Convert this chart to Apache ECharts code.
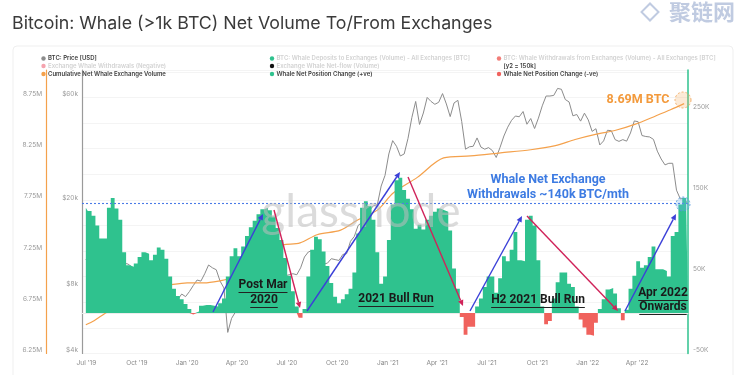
<!DOCTYPE html>
<html>
<head>
<meta charset="utf-8">
<script src="https://cdn.jsdelivr.net/npm/echarts@6/dist/echarts.min.js"></script>
<style>
html, body { margin: 0; padding: 0; background: #fff; }
#chart { width: 750px; height: 375px; }
</style>
</head>
<body>
<div id="chart"></div>
<script>
// weekly samples, first one on Sunday 2019-06-30
const weekStart = Date.UTC(2019, 5, 30);

// BTC price [USD], weekly
const btcPrice = [
  10800, 11400, 10200, 10300, 9500, 11000, 11400, 10200, 10100, 9800,
  10400, 10300, 10000, 8200, 7900, 8300, 8200, 9500, 9300, 9000,
  8500, 7000, 7400, 7500, 7100, 7500, 7300,
  7700, 8200, 8700, 8600, 9300, 10200, 9900, 9700, 8600, 8000,
  5000, 5800, 6200, 6800, 6900, 7100, 7700, 8900, 8700, 9700,
  8900, 9500, 9700, 9400, 9700, 9100, 9200, 9300, 9200, 9900,
  11100, 11700, 11900, 11600, 11700, 10300, 10400, 10900, 10800, 10700,
  11400, 11500, 13100, 13800, 15500, 16000, 18400, 18200, 19100, 19300,
  23500, 26300,
  33000, 38000, 35800, 32300, 33000, 38900, 48500, 57500, 45100, 50900,
  60000, 57500, 55800, 57000, 62500, 56000, 49000, 56600, 58200, 46500,
  34700, 35600, 35800, 39100, 35500, 34700, 35300, 34200, 31800, 35400,
  39900, 43800, 47100, 49300, 48900, 51700, 45200, 48000, 43200, 48200,
  54900, 60900, 60900, 61300, 66000, 65400, 58700, 57200, 49400, 50100,
  46700, 50800,
  47300, 41900, 43100, 36300, 37900, 42400, 42200, 38400, 37700, 38400,
  37800, 41200, 46800, 46400, 40100, 39700, 39500, 38500, 34000, 31300,
  29400, 29900, 29900, 22500, 20500, 20700, 19300
];

// Whale net position change [k BTC], weekly
const netPosition = [
  130, 126, 120, 108, 92, 92, 130, 142, 129, 115,
  75, 59, 57, 61, 69, 75, 73, 65, 72, 81,
  78, 67, 45, 30, 21, 17, 11, 5, -2, 2,
  9, 10, 10, 9, 8, 12, 18, 45, 70, 80,
  70, 82, 95, 106, 114, 122, 128, 130, 127, 119,
  105, 90, 68, 46, 27, 8, -6, 5, 45, 78,
  94, 91, 76, 58, 37, 20, 12, 17, 23, 30,
  50, 98, 130, 138, 132, 115, 75, 36, 45, 90,
  134, 164, 167, 152, 141, 128, 104, 109, 103, 115,
  120, 125, 129, 127, 125, 102, 55, 30, -5, -27,
  -17, -17, 8, 18, 32, 45, 45, 25, 43, 70,
  64, 78, 100, 65, 64, 115, 120, 108, 65, 8,
  -14, -10, 18, 38, 50, 50, 36, 32, 8, -8,
  -18, -27, -28, -12, 5, 17, 29, 31, 24, 6,
  -9, 4, 30, 46, 64, 56, 59, 69, 82, 54,
  54, 52, 45, 95, 100, 134, 142, 144
];

// cumulative net whale exchange volume [M BTC]
const cumDates = [
  '2019-06-30', '2019-07-15', '2019-08-05', '2019-09-01', '2019-10-01', '2019-11-01',
  '2019-12-01', '2020-01-01', '2020-02-01', '2020-03-01', '2020-03-15', '2020-04-01',
  '2020-05-01', '2020-06-01', '2020-06-24', '2020-07-25', '2020-08-25', '2020-10-07',
  '2020-11-07', '2020-12-13', '2021-01-11', '2021-02-24', '2021-04-13', '2021-06-01',
  '2021-07-26', '2021-09-19', '2021-11-03', '2021-12-09', '2022-01-15', '2022-02-21',
  '2022-03-29', '2022-05-05', '2022-06-01', '2022-06-26'
];
const cumVolume = [
  6.53, 6.57, 6.645, 6.73, 6.82, 6.89,
  6.92, 6.94, 6.94, 6.96, 6.98, 7.06,
  7.18, 7.27, 7.31, 7.33, 7.41, 7.455,
  7.554, 7.65, 7.817, 7.97, 8.16, 8.18,
  8.21, 8.24, 8.28, 8.34, 8.39, 8.43,
  8.49, 8.57, 8.63, 8.69
];

const xTicks = [
  '2019-07-01', '2019-10-01', '2020-01-01', '2020-04-01', '2020-07-01', '2020-10-01',
  '2021-01-01', '2021-04-01', '2021-07-01', '2021-10-01', '2022-01-01', '2022-04-01'
];
const priceTicks = [4000, 8000, 20000, 60000];
const netLevel = 135; // dotted [y2] level

const GREEN = '#2fc28e';
const RED = '#f0625d';
const ORANGE = '#f4a14c';
const GRAY = '#8c8c8c';
const DOTTED_BLUE = '#4a7be6';
const MONTHS = ['Jan', 'Feb', 'Mar', 'Apr', 'May', 'Jun', 'Jul', 'Aug', 'Sep', 'Oct', 'Nov', 'Dec'];
const DAY = 86400000;

function utc(s) {
  return Date.parse(s + 'T00:00:00Z');
}

function weekly(values) {
  return values.map((v, i) => [weekStart + i * 7 * DAY, v]);
}

const priceData = weekly(btcPrice);
const netPosData = weekly(netPosition.map(v => Math.max(v, 0)));
const netNegData = weekly(netPosition.map(v => Math.min(v, 0)));
const cumData = cumVolume.map((v, i) => [utc(cumDates[i]), v]);

// text width helper for underlines
const measureCtx = document.createElement('canvas').getContext('2d');
function textWidth(text, font) {
  measureCtx.font = font;
  return measureCtx.measureText(text).width;
}

function label(text, x, y, color, font, underline) {
  const out = [{
    type: 'text', z: 30,
    style: { text: text, x: x, y: y, fill: color, font: font, textAlign: 'center', textVerticalAlign: 'middle' }
  }];
  if (underline) {
    const w = textWidth(text, font);
    out.push({
      type: 'line', z: 30,
      shape: { x1: x - w / 2, y1: y + 7.5, x2: x + w / 2, y2: y + 7.5 },
      style: { stroke: '#222', lineWidth: 1 }
    });
  }
  return out;
}

function arrow(x1, y1, x2, y2, color) {
  const a = Math.atan2(y2 - y1, x2 - x1);
  const L = 6, W = 2.8;
  const bx = x2 - L * Math.cos(a), by = y2 - L * Math.sin(a);
  return [{
    type: 'line', z: 25,
    shape: { x1: x1, y1: y1, x2: bx, y2: by },
    style: { stroke: color, lineWidth: 1.4 }
  }, {
    type: 'polygon', z: 25,
    shape: { points: [[x2, y2], [bx + W * Math.sin(a), by - W * Math.cos(a)], [bx - W * Math.sin(a), by + W * Math.cos(a)]] },
    style: { fill: color }
  }];
}

function legendItem(x, y, dot, text, active) {
  const out = [];
  if (dot) {
    out.push({ type: 'circle', z: 30, shape: { cx: x, cy: y, r: 2.2 }, style: { fill: dot } });
  }
  out.push({
    type: 'text', z: 30,
    style: {
      text: text, x: x + 4.5, y: y, fill: active ? '#3d3d3d' : '#d2d2d2',
      font: '600 6px Inter', textVerticalAlign: 'middle'
    }
  });
  return out;
}

const graphics = [].concat(
  // card frame
  [{ type: 'rect', z: 0, shape: { x: 13, y: 46, width: 720, height: 345, r: 4 }, style: { fill: 'none', stroke: '#efefef', lineWidth: 1 } }],
  // legend
  legendItem(43.5, 58.5, GRAY, 'BTC: Price [USD]', true),
  legendItem(272, 58.5, GREEN, 'BTC: Whale Deposits to Exchanges (Volume) - All Exchanges [BTC]', false),
  legendItem(499, 58.5, '#f27d78', 'BTC: Whale Withdrawals from Exchanges (Volume) - All Exchanges [BTC]', false),
  legendItem(43.5, 66, '#f5a3ae', 'Exchange Whale Withdrawals (Negative)', false),
  legendItem(272, 66, '#111', 'Exchange Whale Net-flow (Volume)', false),
  legendItem(499, 66, null, '[y2 = 150k]', true),
  legendItem(43.5, 74, ORANGE, 'Cumulative Net Whale Exchange Volume', true),
  legendItem(272, 74, GREEN, 'Whale Net Position Change (+ve)', true),
  legendItem(499, 74, RED, 'Whale Net Position Change (-ve)', true),
  // watermarks
  [{
    type: 'text', z: 15,
    style: { text: 'glassnode', x: 361, y: 212, fill: 'rgba(190,190,190,0.55)', font: '46px Lato', textAlign: 'center', textVerticalAlign: 'middle' }
  }, {
    type: 'text', z: 15,
    style: { text: '聚链网', x: 702, y: 12, fill: 'rgba(140,160,200,0.55)', font: 'bold 22px "Noto Sans CJK SC"', textAlign: 'center', textVerticalAlign: 'middle' }
  }, {
    type: 'rect', z: 15, rotation: Math.PI / 4, x: 650, y: 12,
    shape: { x: -6, y: -6, width: 12, height: 12 },
    style: { fill: 'none', stroke: 'rgba(140,160,200,0.55)', lineWidth: 2 }
  }],
  // arrows
  arrow(213, 312, 263, 214, '#3b40d8'),
  arrow(274, 210, 300, 308, '#d0235a'),
  arrow(307, 311, 400, 172, '#3b40d8'),
  arrow(408, 177, 463, 306, '#d0235a'),
  arrow(470, 311, 522, 216, '#3b40d8'),
  arrow(527, 216, 618, 311, '#d0235a'),
  arrow(625, 311, 676, 214, '#3b40d8'),
  // highlight circles
  [{
    type: 'circle', z: 26, shape: { cx: 683, cy: 100, r: 8 },
    style: { fill: 'rgba(245,170,90,0.25)', stroke: 'rgba(240,160,80,0.8)', lineWidth: 1, lineDash: [2, 2] }
  }, {
    type: 'circle', z: 26, shape: { cx: 683, cy: 204, r: 7 },
    style: { fill: 'rgba(110,180,235,0.3)', stroke: 'rgba(80,150,220,0.8)', lineWidth: 1, lineDash: [2, 2] }
  }],
  // annotation texts
  label('8.69M BTC', 638, 100, '#f39a3c', 'bold 12.5px Roboto', false),
  label('Whale Net Exchange', 548, 180, '#3d7be2', 'bold 12.5px Roboto', false),
  label('Withdrawals ~140k BTC/mth', 548, 195, '#3d7be2', 'bold 12.5px Roboto', false),
  label('Post Mar', 263, 285, '#1a1a1a', 'bold 12px Roboto', true),
  label('2020', 264, 300, '#1a1a1a', 'bold 12px Roboto', true),
  label('2021 Bull Run', 396, 299, '#1a1a1a', 'bold 12px Roboto', true),
  label('H2 2021 Bull Run', 538, 300, '#1a1a1a', 'bold 12px Roboto', true),
  label('Apr 2022', 663, 293, '#1a1a1a', 'bold 12px Roboto', true),
  label('Onwards', 663, 307, '#1a1a1a', 'bold 12px Roboto', true)
);

const axisText = { color: '#999', fontSize: 6.5, fontFamily: 'Inter' };

const chart = echarts.init(document.getElementById('chart'), null, { renderer: 'canvas' });
chart.setOption({
  backgroundColor: '#fff',
  animation: false,
  title: {
    text: 'Bitcoin: Whale (>1k BTC) Net Volume To/From Exchanges',
    left: 7, top: 10,
    textStyle: { color: '#3a3a3a', fontSize: 17.8, fontWeight: 'normal', fontFamily: 'Inter' }
  },
  grid: { left: 82, right: 62, top: 70, bottom: 21.5 },
  xAxis: {
    // dates as epoch milliseconds
    type: 'value',
    min: Date.UTC(2019, 5, 23),
    max: Date.UTC(2022, 6, 3),
    axisLine: { show: true, lineStyle: { color: '#ececec' } },
    axisTick: { show: false },
    splitLine: { show: false },
    axisLabel: Object.assign({
      customValues: xTicks.map(utc),
      margin: 6,
      hideOverlap: false,
      formatter: function (v) {
        const d = new Date(v);
        return MONTHS[d.getUTCMonth()] + " '" + String(d.getUTCFullYear()).slice(2);
      }
    }, axisText, { color: '#888' })
  },
  yAxis: [{
    // cumulative volume
    type: 'value', position: 'left', offset: 36,
    min: 6.25, max: 9.0186, interval: 0.25,
    axisLine: { show: true, lineStyle: { color: ORANGE, width: 1.2 } },
    axisTick: { show: false },
    splitLine: { show: true, lineStyle: { color: '#f4f4f4' } },
    axisLabel: Object.assign({
      margin: 4, verticalAlign: 'bottom',
      formatter: function (v) {
        const k = Math.round((v - 6.25) / 0.25);
        return k % 2 === 0 ? v.toFixed(2) + 'M' : '';
      }
    }, axisText)
  }, {
    // price, log scale
    type: 'log', logBase: 10, position: 'left',
    min: 4000, max: 80200,
    axisLine: { show: true, lineStyle: { color: '#9a9a9a', width: 1.2 } },
    axisTick: { show: false },
    splitLine: { show: false },
    minorSplitLine: { show: false },
    axisLabel: Object.assign({
      customValues: priceTicks,
      margin: 4, verticalAlign: 'bottom',
      formatter: function (v) { return '$' + Math.round(v / 1000) + 'k'; }
    }, axisText)
  }, {
    // net position change
    type: 'value', position: 'right',
    min: -50, max: 300, interval: 100,
    axisLine: { show: true, lineStyle: { color: GREEN, width: 1.5 } },
    axisTick: { show: false },
    splitLine: { show: false },
    axisLabel: Object.assign({
      margin: 5, verticalAlign: 'bottom',
      formatter: function (v) { return v >= 300 ? '' : v + 'K'; }
    }, axisText)
  }],
  series: [{
    name: 'BTC: Price [USD]',
    type: 'line', yAxisIndex: 1, z: 1,
    data: priceData,
    showSymbol: false,
    lineStyle: { color: GRAY, width: 1 }
  }, {
    name: 'Cumulative Net Whale Exchange Volume',
    type: 'line', yAxisIndex: 0, z: 1,
    data: cumData,
    smooth: 0.3,
    showSymbol: false,
    lineStyle: { color: ORANGE, width: 1.2 }
  }, {
    name: 'Whale Net Position Change (+ve)',
    type: 'line', yAxisIndex: 2, z: 2,
    data: netPosData,
    step: 'middle',
    showSymbol: false,
    lineStyle: { width: 0 },
    itemStyle: { color: GREEN },
    areaStyle: { color: GREEN, opacity: 1 },
    markLine: {
      silent: true, symbol: 'none',
      label: { show: false },
      lineStyle: { color: DOTTED_BLUE, width: 1.1, type: [2, 2], opacity: 1 },
      data: [{ yAxis: netLevel, lineStyle: { color: DOTTED_BLUE } }]
    }
  }, {
    name: 'Whale Net Position Change (-ve)',
    type: 'line', yAxisIndex: 2, z: 2,
    data: netNegData,
    step: 'middle',
    showSymbol: false,
    lineStyle: { width: 0 },
    itemStyle: { color: RED },
    areaStyle: { color: RED, opacity: 1 }
  }],
  graphic: graphics
});
</script>
</body>
</html>
